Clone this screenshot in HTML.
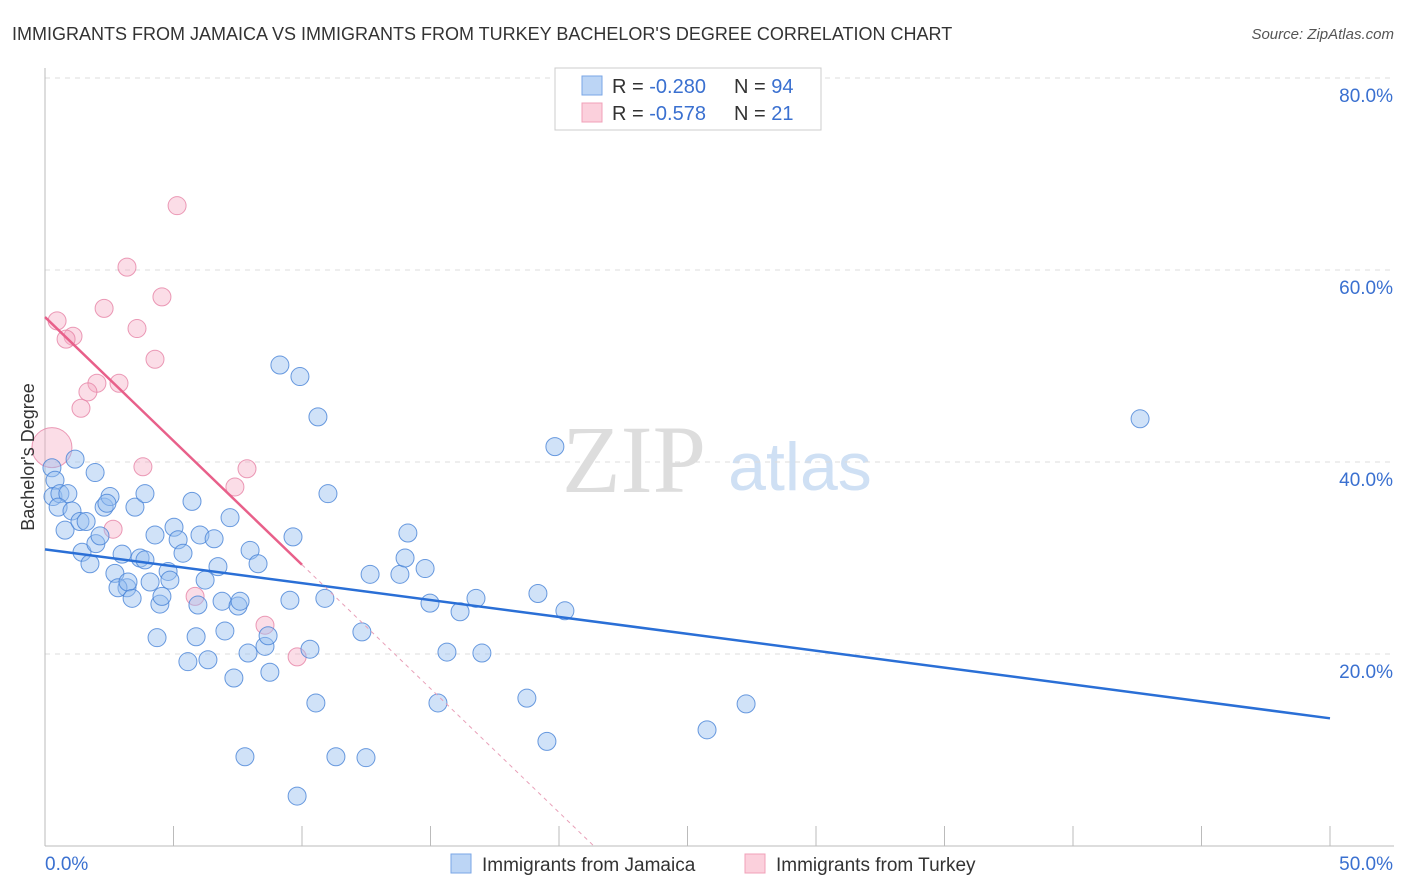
<!DOCTYPE html>
<html><head><meta charset="utf-8"><style>
body{margin:0;background:#fff;font-family:"Liberation Sans",sans-serif;}
svg{display:block}
</style></head><body>
<svg id="chart" width="1406" height="892">
<text x="12" y="40" font-size="18" fill="#333">IMMIGRANTS FROM JAMAICA VS IMMIGRANTS FROM TURKEY BACHELOR'S DEGREE CORRELATION CHART</text>
<text x="1394" y="39" font-size="15" fill="#555" font-style="italic" text-anchor="end">Source: ZipAtlas.com</text>
<text x="634" y="492" font-size="96" fill="#ddd" font-family="Liberation Serif" text-anchor="middle">ZIP</text>
<text x="800" y="490" font-size="68" fill="#cfe0f4" text-anchor="middle">atlas</text>
<g id="grid"></g><g id="axes"></g><g id="pts"></g><g id="trend"></g>
<text transform="translate(34,457) rotate(-90)" font-size="18" fill="#333" text-anchor="middle">Bachelor's Degree</text>
<g>
<rect x="555" y="68" width="266" height="62" fill="#fff" stroke="#ccc"/>
<rect x="582" y="76" width="20" height="19" fill="#bcd5f5" stroke="#7aa6e6"/>
<rect x="582" y="103" width="20" height="19" fill="#fbd0dc" stroke="#f0a0b8"/>
<text x="612" y="93" font-size="20" fill="#333">R = <tspan fill="#3a70d0">-0.280</tspan></text>
<text x="734" y="93" font-size="20" fill="#333">N = <tspan fill="#3a70d0">94</tspan></text>
<text x="612" y="120" font-size="20" fill="#333">R = <tspan fill="#3a70d0"> -0.578</tspan></text>
<text x="734" y="120" font-size="20" fill="#333">N = <tspan fill="#3a70d0"> 21</tspan></text>
</g>
<g>
<rect x="451" y="854" width="20" height="19" fill="#bcd5f5" stroke="#7aa6e6"/>
<text x="482" y="871" font-size="19" fill="#333">Immigrants from Jamaica</text>
<rect x="745" y="854" width="20" height="19" fill="#fbd0dc" stroke="#f0a0b8"/>
<text x="776" y="871" font-size="19" fill="#333">Immigrants from Turkey</text>
</g>
</svg>
<script>
const blueX=[0.27,0.39,0.31,0.58,0.89,0.51,1.05,0.78,1.17,1.95,1.36,1.60,1.44,1.75,1.98,2.14,2.30,2.53,2.41,3.50,3.89,2.72,3.00,3.19,2.84,3.23,3.39,3.70,3.89,4.09,4.28,4.36,4.47,4.55,4.79,4.86,5.02,5.18,5.37,5.56,5.72,5.88,5.95,6.03,6.23,6.34,6.58,6.73,6.89,7.00,7.20,7.35,7.51,7.59,7.98,7.90,8.29,8.56,8.68,8.75,9.14,9.53,9.65,9.92,10.31,10.54,10.62,10.89,11.01,11.32,12.33,12.49,12.65,13.81,14.01,14.12,14.79,14.98,15.29,15.64,16.15,16.77,17.00,18.75,19.18,19.53,19.84,20.23,25.76,27.28,42.61,7.78,9.81];
const blueY=[39.4,38.1,36.4,36.7,36.7,35.3,34.9,32.9,40.3,38.9,33.8,33.8,30.6,29.4,31.5,32.3,35.3,36.4,35.7,35.3,36.7,28.4,30.4,26.9,26.9,27.5,25.8,30.0,29.8,27.5,32.4,21.7,25.2,26.0,28.6,27.7,33.2,31.9,30.5,19.2,35.9,21.8,25.1,32.4,27.7,19.4,32.0,29.1,25.5,22.4,34.2,17.5,25.0,25.5,30.8,20.1,29.4,20.8,21.9,18.1,50.1,25.6,32.2,48.9,20.5,14.9,44.7,25.8,36.7,9.3,22.3,9.2,28.3,28.3,30.0,32.6,28.9,25.3,14.9,20.2,24.4,25.8,20.1,15.4,26.3,10.9,41.6,24.5,12.1,14.8,44.5,9.3,5.2];
const pinkX=[5.14,3.19,2.30,4.55,3.58,0.47,1.09,0.82,4.28,2.02,2.88,1.67,1.40,0.27,3.81,7.86,7.39,2.65,5.84,8.56,9.81];
const pinkY=[66.7,60.3,56.0,57.2,53.9,54.7,53.1,52.8,50.7,48.2,48.2,47.3,45.6,41.5,39.5,39.3,37.4,33.0,26.0,23.0,19.7];
const yTicks=[20,40,60,80];
const yTickLabels=["20.0%","40.0%","60.0%","80.0%"];
const xTicks=[0,5,10,15,20,25,30,35,40,45,50];
const blueTrend=[30.9,13.3];
const pinkTrend=[55.1,-2.58];
const NS="http://www.w3.org/2000/svg";
const sx=v=>45+v*25.7, sy=v=>846-v*9.6;
function mk(t,a,p){const e=document.createElementNS(NS,t);for(const k in a)e.setAttribute(k,a[k]);p.appendChild(e);return e;}
const grid=document.getElementById('grid'),axes=document.getElementById('axes'),pts=document.getElementById('pts'),tr=document.getElementById('trend');
yTicks.forEach((v,i)=>{
 const l=mk('line',{x1:45,x2:1394,y1:sy(v),y2:sy(v),stroke:'#ddd','stroke-dasharray':'5,5'},grid);
 
 
 const t=mk('text',{x:1393,y:sy(v)+24,'font-size':19,fill:'#3a70d0','text-anchor':'end'},axes);
 t.textContent=yTickLabels[i];
 
 
});
const ax=mk('line',{x1:45,x2:1394,y1:846,y2:846,stroke:'#bbb'},axes);


const ay=mk('line',{x1:45,x2:45,y1:68,y2:846,stroke:'#bbb'},axes);


xTicks.forEach(v=>{
 const t=mk('line',{x1:sx(v),x2:sx(v),y1:826,y2:846,stroke:'#bbb'},axes);
 
 
});
[["0.0%",45,'start'],["50.0%",1393,'end']].forEach(d=>{
 const t=mk('text',{x:d[1],y:870,'font-size':19,fill:'#3a70d0','text-anchor':d[2]},axes);
 t.textContent=d[0];
 
 
});
pinkX.forEach((x,i)=>{
 const c=mk('circle',{cx:sx(x),cy:sy(pinkY[i]),r:i===13?20:9,fill:'rgba(245,170,195,0.4)',stroke:'rgba(230,130,165,0.8)','stroke-width':1},pts);
 
 
});
blueX.forEach((x,i)=>{
 const c=mk('circle',{cx:sx(x),cy:sy(blueY[i]),r:9,fill:'rgba(150,190,240,0.45)',stroke:'rgba(70,130,215,0.8)','stroke-width':1},pts);
 
 
});
const bl=mk('line',{x1:sx(0),y1:sy(blueTrend[0]),x2:sx(50),y2:sy(blueTrend[1]),stroke:'#2a6fd6','stroke-width':2.5},tr);


const pz=-pinkTrend[0]/pinkTrend[1];
const pl=mk('line',{x1:sx(0),y1:sy(pinkTrend[0]),x2:sx(10),y2:sy(pinkTrend[0]+pinkTrend[1]*10),stroke:'#e8608a','stroke-width':2.5},tr);


const pd=mk('line',{x1:sx(10),y1:sy(pinkTrend[0]+pinkTrend[1]*10),x2:sx(pz),y2:sy(0),stroke:'#e8a0b8','stroke-width':1,'stroke-dasharray':'4,4'},tr);


</script>
</body></html>
